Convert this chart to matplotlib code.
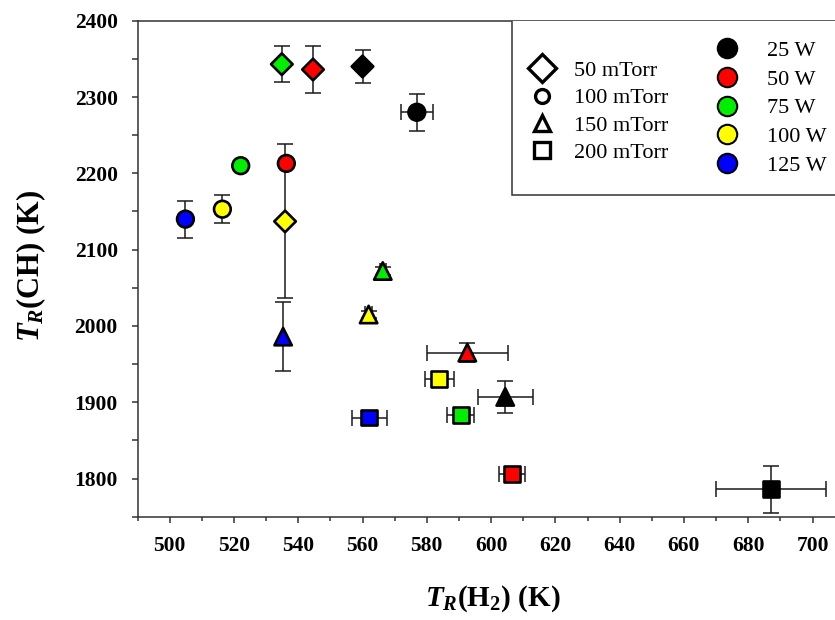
import matplotlib
matplotlib.use("Agg")
import matplotlib.pyplot as plt
from matplotlib.lines import Line2D
from matplotlib.patches import Rectangle
from matplotlib.ticker import MultipleLocator

plt.rcParams['font.family'] = ['Liberation Serif', 'DejaVu Serif']
plt.rcParams['mathtext.fontset'] = 'custom'
plt.rcParams['mathtext.rm'] = 'Liberation Serif:bold'
plt.rcParams['mathtext.bf'] = 'Liberation Serif:bold'
plt.rcParams['mathtext.it'] = 'Liberation Serif:bold:italic'

# rotational temperatures, one entry per (pressure, power) run
pressure = [50, 50, 50, 50,
            100, 100, 100, 100, 100,
            150, 150, 150, 150, 150,
            200, 200, 200, 200, 200]
power = [25, 50, 75, 100,
         25, 50, 75, 100, 125,
         25, 50, 75, 100, 125,
         25, 50, 75, 100, 125]
t_h2 = [560.0, 544.6, 534.9, 535.9,
        576.9, 536.3, 522.1, 516.4, 504.9,
        604.4, 592.6, 566.3, 561.9, 535.3,
        687.1, 606.5, 590.6, 583.9, 562.1]
t_h2_err = [0, 0, 0, 0,
            5.0, 0, 0, 0, 0,
            8.6, 12.6, 1.0, 1.0, 0,
            17.0, 4.0, 4.2, 4.6, 5.5]
t_ch = [2340, 2336, 2343, 2137,
        2280, 2213, 2210, 2153, 2140,
        1907, 1965, 2072, 2015, 1986,
        1786, 1806, 1883, 1930, 1880]
t_ch_err = [22, 30.5, 23.5, 101,
            24, 0, 0, 18.7, 24.3,
            20.6, 12, 5, 5, 45,
            30.5, 5, 5, 5, 8]

pressure_levels = [50, 100, 150, 200]
pressure_labels = ['50 mTorr', '100 mTorr', '150 mTorr', '200 mTorr']
pressure_markers = {50: 'D', 100: 'o', 150: '^', 200: 's'}
marker_sizes = {50: 11, 100: 12, 150: 12.5, 200: 11.5}
legend_sizes = {50: 14, 100: 10, 150: 11, 200: 12}

power_levels = [25, 50, 75, 100, 125]
power_labels = ['25 W', '50 W', '75 W', '100 W', '125 W']
power_colors = {25: '#000000', 50: '#ff0000', 75: '#00ee00', 100: '#ffff00', 125: '#0000ff'}

fig = plt.figure(figsize=(8.35, 6.2), dpi=100)
ax = fig.add_axes([0.1647, 0.1666, 0.8353, 0.80])

ax.errorbar(t_h2, t_ch, xerr=t_h2_err, yerr=t_ch_err, fmt='none',
            ecolor='#1a1a1a', elinewidth=1.1, capsize=5.5, capthick=1.1)

for p in pressure_levels:
    idx = [i for i, v in enumerate(pressure) if v == p]
    ax.scatter([t_h2[i] for i in idx], [t_ch[i] for i in idx],
               marker=pressure_markers[p], s=marker_sizes[p] ** 2,
               c=[power_colors[power[i]] for i in idx],
               edgecolors='black', linewidths=1.9, zorder=3)

ax.set_xlim(490, 707)
ax.set_ylim(1750, 2400)
ax.xaxis.set_major_locator(MultipleLocator(20))
ax.xaxis.set_minor_locator(MultipleLocator(10))
ax.yaxis.set_major_locator(MultipleLocator(100))
ax.yaxis.set_minor_locator(MultipleLocator(50))

for side in ['left', 'bottom', 'top']:
    ax.spines[side].set_linewidth(1.1)
    ax.spines[side].set_color('#333333')
ax.spines['right'].set_visible(False)

ax.tick_params(axis='both', which='both', direction='out', color='#333333', width=1.1)
ax.tick_params(axis='x', which='major', length=4.2, pad=10)
ax.tick_params(axis='x', which='minor', length=3)
ax.tick_params(axis='y', which='both', length=4.2, pad=10)
ax.tick_params(axis='both', which='major', labelsize=15.5)
for lab in ax.get_xticklabels() + ax.get_yticklabels():
    lab.set_fontweight('bold')

ax.set_xlabel(r'$T_R\mathrm{(H_2)\ (K)}$', fontsize=21)
ax.set_ylabel(r'$T_R\mathrm{(CH)\ (K)}$', fontsize=22)
ax.xaxis.set_label_coords(0.509, -0.135)
ax.yaxis.set_label_coords(-0.128, 0.505)

# legend frame, clipped by the axes at top and right
ax.add_patch(Rectangle((0.537, 0.6486), 0.6, 0.5, transform=ax.transAxes,
                       facecolor='white', edgecolor='#333333', linewidth=1.1,
                       zorder=4, clip_on=True))

p_handles = [Line2D([], [], linestyle='none', marker=pressure_markers[p],
                    markersize=legend_sizes[p], markerfacecolor='white',
                    markeredgecolor='black', markeredgewidth=2.4)
             for p in pressure_levels]
leg1 = ax.legend(p_handles, pressure_labels, loc='upper left',
                 bbox_to_anchor=(0.636, 0.9024), bbox_transform=fig.transFigure,
                 frameon=False, fontsize=16, borderpad=0, handlelength=1.0,
                 handletextpad=0.95, labelspacing=0.3, borderaxespad=0)
leg1.set_zorder(5)
ax.add_artist(leg1)

w_handles = [Line2D([], [], linestyle='none', marker='o', markersize=14,
                    markerfacecolor=power_colors[w], markeredgecolor='black',
                    markeredgewidth=1.5)
             for w in power_levels]
leg2 = ax.legend(w_handles, power_labels, loc='upper left',
                 bbox_to_anchor=(0.857, 0.935), bbox_transform=fig.transFigure,
                 frameon=False, fontsize=16, borderpad=0, handlelength=1.0,
                 handletextpad=1.3, labelspacing=0.37, borderaxespad=0)
leg2.set_zorder(5)

fig.savefig('out.png', dpi=100)
